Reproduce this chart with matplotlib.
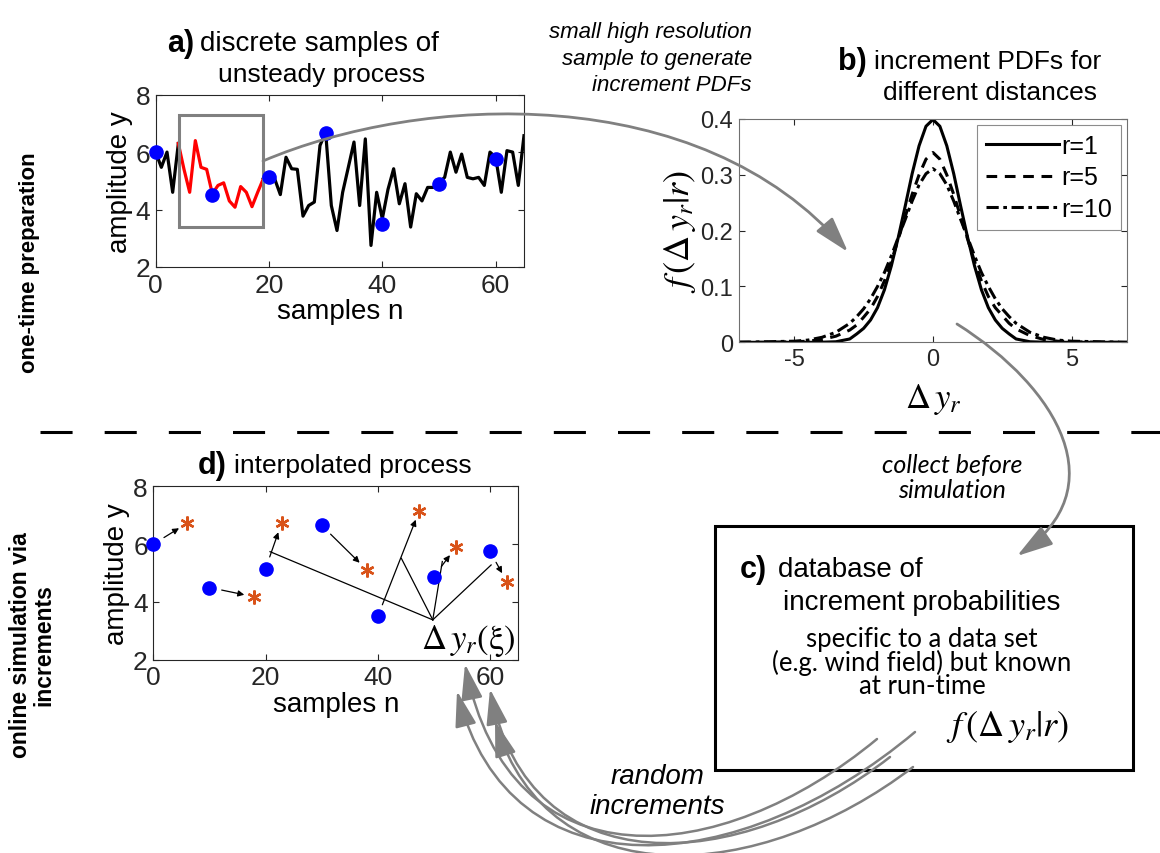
import numpy as np
import matplotlib.pyplot as plt
from matplotlib.patches import FancyArrowPatch, Rectangle
from matplotlib.path import Path

plt.rcParams['font.family'] = ['Liberation Sans', 'DejaVu Sans']
plt.rcParams['mathtext.fontset'] = 'stix'
plt.rcParams['axes.unicode_minus'] = False

# a) discrete samples of the unsteady process
n_proc = np.arange(66)
y_proc = [6.0, 5.47, 6.0, 4.6, 6.3, 5.4, 4.6, 6.4, 5.47, 5.4,
          4.55, 4.84, 4.93, 4.3, 4.08, 4.8, 4.6, 4.1, 4.6, 5.07,
          5.16, 5.07, 4.52, 5.82, 5.42, 5.4, 3.77, 4.14, 4.26, 6.23,
          6.69, 4.14, 3.27, 4.6, 5.47, 6.35, 4.14, 6.46, 2.75, 4.6,
          3.68, 4.7, 5.42, 4.2, 4.9, 3.39, 4.55, 4.3, 4.77, 4.77,
          4.93, 5.12, 6.0, 5.3, 5.93, 5.12, 5.07, 5.12, 4.84, 6.0,
          5.82, 4.6, 6.05, 6.0, 4.84, 6.57]
red_start, red_stop = 4, 19          # high resolution part (red)
zoom_box = (4.1, 3.4, 18.9, 7.3)     # x0, y0, x1, y1

n_samp = [0, 10, 20, 30, 40, 50, 60]
y_samp = [6.0, 4.5, 5.15, 6.65, 3.5, 4.88, 5.75]

# b) increment PDFs
dy = [-7, -6, -5, -4.5, -4, -3.5, -3, -2.75, -2.5, -2.25, -2, -1.75, -1.5,
      -1.25, -1, -0.75, -0.5, -0.25, 0, 0.25, 0.5, 0.75, 1, 1.25, 1.5, 1.75,
      2, 2.25, 2.5, 2.75, 3, 3.5, 4, 4.5, 5, 6, 7]
pdf_r1 = [0, 0, 0, 0, 0.0002, 0.001, 0.006, 0.015, 0.025, 0.040, 0.062,
          0.094, 0.137, 0.188, 0.244, 0.302, 0.352, 0.387, 0.399,
          0.387, 0.352, 0.302, 0.244, 0.188, 0.137, 0.094, 0.062, 0.040,
          0.025, 0.015, 0.006, 0.001, 0.0002, 0, 0, 0, 0]
pdf_r5 = [0, 0, 0.001, 0.002, 0.005, 0.011, 0.022, 0.031, 0.045, 0.060,
          0.082, 0.110, 0.145, 0.185, 0.225, 0.265, 0.300, 0.328, 0.340,
          0.328, 0.300, 0.265, 0.225, 0.185, 0.145, 0.110, 0.082, 0.062,
          0.048, 0.034, 0.024, 0.012, 0.005, 0.002, 0.001, 0, 0]
pdf_r10 = [0, 0.001, 0.002, 0.004, 0.009, 0.018, 0.034, 0.046, 0.060, 0.078,
           0.100, 0.125, 0.155, 0.188, 0.220, 0.253, 0.282, 0.302, 0.311,
           0.302, 0.282, 0.253, 0.220, 0.188, 0.155, 0.125, 0.100, 0.078,
           0.060, 0.046, 0.034, 0.018, 0.009, 0.004, 0.002, 0.001, 0]
pdf_labels = ['r=1', 'r=5', 'r=10']

# d) interpolated process: new points after random increments
x_new = [6.05, 17.9, 22.85, 38.0, 47.4, 53.9, 63.0]
y_new = [6.73, 4.18, 6.73, 5.12, 7.16, 5.89, 4.7]
incr_origin = (49.8, 3.38)
incr_targets = [(20.8, 5.74), (44.2, 5.51), (51.5, 5.4), (60.2, 5.28)]

gray = '#808080'
axcol = '#262626'
orange = '#D95319'

fig = plt.figure(figsize=(11.6, 8.54), dpi=100)


def style_axes(ax, size):
    ax.tick_params(direction='in', length=4, width=0.8, labelsize=size,
                   top=True, right=True, colors=axcol, pad=4)
    for s in ax.spines.values():
        s.set_color(axcol)
        s.set_linewidth(0.8)


# panel a
ax_a = fig.add_axes([0.1342, 0.6862, 0.3175, 0.2018])
ax_a.plot(n_proc[:red_start + 1], y_proc[:red_start + 1], color='k', lw=2.3)
ax_a.plot(n_proc[red_stop:], y_proc[red_stop:], color='k', lw=2.3)
ax_a.plot(n_proc[red_start:red_stop + 1], y_proc[red_start:red_stop + 1],
          color='#FF0000', lw=2.3)
bx0, by0, bx1, by1 = zoom_box
ax_a.add_patch(Rectangle((bx0, by0), bx1 - bx0, by1 - by0, fill=False,
                         ec=gray, lw=2.2, zorder=3))
ax_a.plot(n_samp, y_samp, 'o', color='#0000FF', ms=9.5, zorder=4, clip_on=False)
ax_a.set_xlim(0, 65)
ax_a.set_ylim(2, 8)
ax_a.set_xticks([0, 20, 40, 60])
ax_a.set_yticks([2, 4, 6, 8])
ax_a.set_xlabel('samples n', fontsize=20, labelpad=1)
ax_a.set_ylabel('amplitude y', fontsize=20, labelpad=2)
style_axes(ax_a, 19)

# panel b
ax_b = fig.add_axes([0.637, 0.598, 0.3345, 0.2615])
ax_b.plot(dy, pdf_r1, color='k', lw=2.2, label=pdf_labels[0])
ax_b.plot(dy, pdf_r5, color='k', lw=2.2, dashes=(3.5, 2.5), label=pdf_labels[1])
ax_b.plot(dy, pdf_r10, color='k', lw=2.2, dashes=(4, 1.5, 1.2, 1.5),
          label=pdf_labels[2])
ax_b.set_xlim(-7, 7)
ax_b.set_ylim(0, 0.4)
ax_b.set_xticks([-5, 0, 5])
ax_b.set_yticks([0, 0.1, 0.2, 0.3, 0.4])
ax_b.set_yticklabels(['0', '0.1', '0.2', '0.3', '0.4'])
ax_b.set_xlabel(r'$\Delta\,y_r$', fontsize=25, labelpad=8)
ax_b.set_ylabel(r'$f\,\left(\Delta\,y_r|r\right)$', fontsize=26, labelpad=2)
style_axes(ax_b, 17)
for s in ax_b.spines.values():
    s.set_color('#707070')
leg = ax_b.legend(loc='upper right', fontsize=18, frameon=True, fancybox=False,
                  handlelength=2.9, handletextpad=0.1, borderpad=0.35,
                  labelspacing=0.3, borderaxespad=0.25)
leg.get_frame().set_edgecolor('#707070')
leg.get_frame().set_linewidth(0.8)

# panel d
ax_d = fig.add_axes([0.1322, 0.2263, 0.3144, 0.203])
ax_d.plot(n_samp, y_samp, 'o', color='#0000FF', ms=9.5, zorder=4, clip_on=False)
ax_d.plot(x_new, y_new, ls='none', marker=(6, 2, 0), color=orange, ms=10,
          mew=1.7, zorder=4)
for xs, ys, xn, yn in zip(n_samp, y_samp, x_new, y_new):
    ax_d.annotate('', xy=(xn, yn), xytext=(xs, ys),
                  arrowprops=dict(arrowstyle='-|>', color='k', lw=0.9,
                                  shrinkA=9, shrinkB=7, mutation_scale=9))
for tx, ty in incr_targets:
    ax_d.plot([incr_origin[0], tx], [incr_origin[1], ty], color='k', lw=0.9)
ax_d.text(64.6, 2.05, r'$\Delta\,y_r\left(\mathrm{\xi}\right)$', fontsize=25,
          ha='right', va='bottom')
ax_d.set_xlim(0, 65)
ax_d.set_ylim(2, 8)
ax_d.set_xticks([0, 20, 40, 60])
ax_d.set_yticks([2, 4, 6, 8])
ax_d.set_xlabel('samples n', fontsize=20, labelpad=1)
ax_d.set_ylabel('amplitude y', fontsize=20, labelpad=2)
style_axes(ax_d, 19)

# overlay in figure pixels for the annotations
ov = fig.add_axes([0, 0, 1, 1], zorder=10)
ov.set_xlim(0, 1160)
ov.set_ylim(854, 0)
ov.axis('off')
ov.patch.set_alpha(0)


def curved_arrow(p0, p1, p2, p3, lw=2.0, hl=1.1, hw=0.33):
    path = Path([p0, p1, p2, p3],
                [Path.MOVETO, Path.CURVE4, Path.CURVE4, Path.CURVE4])
    ov.add_patch(FancyArrowPatch(
        path=path, arrowstyle=f'-|>,head_length={hl},head_width={hw}',
        mutation_scale=20, color=gray, lw=lw))


# panel titles
ov.text(194, 44, 'a)', fontsize=22, fontweight='bold', ha='right', va='center')
ov.text(200, 44, 'discrete samples of', fontsize=20, ha='left', va='center')
ov.text(322, 75, 'unsteady process', fontsize=19, ha='center', va='center')
ov.text(867, 62, 'b)', fontsize=22, fontweight='bold', ha='right', va='center')
ov.text(874, 62, 'increment PDFs for', fontsize=19, ha='left', va='center')
ov.text(990, 93, 'different distances', fontsize=19, ha='center', va='center')
ov.text(227, 466, 'd)', fontsize=22, fontweight='bold', ha='right', va='center')
ov.text(234, 466, 'interpolated process', fontsize=19, ha='left', va='center')

ov.text(752, 22, 'small high resolution\nsample to generate\nincrement PDFs',
        fontsize=16, style='italic', ha='right', va='top', linespacing=1.35)

# side labels
ov.text(30, 263, 'one-time preparation', fontsize=16, fontweight='bold',
        rotation=90, ha='center', va='center')
ov.text(32, 645, 'online simulation via\nincrements', fontsize=16.5,
        fontweight='bold', rotation=90, ha='center', va='center',
        linespacing=1.0)

# separator
ov.plot([40, 1160], [433, 433], color='k', lw=2.2, dashes=(10.5, 10.5))

# c) database box
ov.add_patch(Rectangle((715, 527), 418, 244, fill=False, ec='k', lw=2.2))
ov.text(767, 570, 'c)', fontsize=22, fontweight='bold', ha='right', va='center')
ov.text(778, 570, 'database of', fontsize=20, ha='left', va='center')
ov.text(922, 603, 'increment probabilities', fontsize=20, ha='center',
        va='center')
ov.text(922, 663, 'specific to a data set\n(e.g. wind field) but known\nat run-time',
        fontsize=18.5, ha='center', va='center', family=['Lato', 'DejaVu Sans'],
        linespacing=0.9)
ov.text(1008, 727, r'$f\,\left(\Delta\,y_r|r\right)$', fontsize=26,
        ha='center', va='center')

ov.text(952, 478, 'collect before\nsimulation', fontsize=18, style='italic',
        ha='center', va='center', family=['Lato', 'DejaVu Sans'],
        linespacing=1.1)
ov.text(657, 792, 'random\nincrements', fontsize=20, style='italic',
        ha='center', va='center', linespacing=1.2)

# gray arrows
curved_arrow((263, 162), (420, 95), (700, 80), (848, 253))
curved_arrow((957, 325), (1060, 390), (1115, 490), (1017, 557))
curved_arrow((877, 740), (720, 870), (510, 890), (465, 665), lw=1.8)
curved_arrow((915, 733), (740, 880), (510, 900), (457, 692), lw=1.8)
curved_arrow((890, 758), (740, 875), (530, 890), (490, 690), lw=1.8)
curved_arrow((913, 768), (760, 885), (550, 900), (495, 722), lw=1.8)

fig.savefig('out.png', dpi=100)
